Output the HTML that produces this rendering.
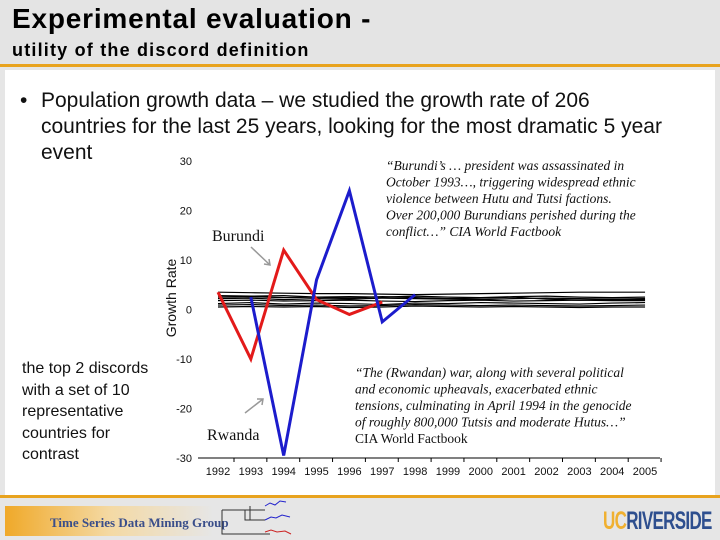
<!DOCTYPE html>
<html><head><meta charset="utf-8">
<style>
body{margin:0;width:720px;height:540px;overflow:hidden;background:#e6e6e6;font-family:"Liberation Sans",sans-serif;position:relative}
.abs{position:absolute}
</style></head><body>
<div class="abs" style="left:0;top:0;width:720px;height:64px;background:#e4e4e4"></div>
<div class="abs" style="left:12px;top:3px;font-size:28px;font-weight:bold;color:#000;letter-spacing:0.8px">Experimental evaluation -</div>
<div class="abs" style="left:12px;top:40px;font-size:18px;font-weight:bold;color:#000;letter-spacing:1.2px">utility of the discord definition</div>
<div class="abs" style="left:0;top:64px;width:720px;height:3px;background:#e8a31e"></div>
<div class="abs" style="left:5px;top:70px;width:710px;height:425px;background:#fff"></div>
<div class="abs" style="left:20px;top:88px;width:680px;font-size:21px;line-height:26px;color:#111">
<span style="position:absolute;left:0">•</span><div style="margin-left:21px;width:655px">Population growth data – we studied the growth rate of 206<br>countries for the last 25 years, looking for the most dramatic 5 year event</div></div>
<div class="abs" style="left:22px;top:358px;width:140px;font-size:16px;line-height:21.5px;color:#111">the top 2 discords with a set of 10 representative countries for contrast</div>
<svg class="abs" style="left:0;top:0" width="720" height="540" id="chart"></svg>
<div class="abs" style="left:0;top:495px;width:720px;height:3px;background:#e8a31e"></div>
<div class="abs" style="left:5px;top:506px;width:260px;height:30px;background:linear-gradient(90deg,#f0a929,#f4d9a3 40%,#e6e6e6 80%)"></div>
<div class="abs" style="left:50px;top:515px;font-family:'Liberation Serif',serif;font-size:13px;font-weight:bold;color:#3a4e8a">Time Series Data Mining Group</div>
<svg class="abs" style="left:220px;top:498px" width="90" height="42">
<path d="M2,12 H45 M2,12 V36 H50 M25,12 V22 H45 M25,22 V12 M30,8 V22 H45" stroke="#333" fill="none" stroke-width="1"/>
<path d="M45,8 l5,-3 5,2 5,-4 6,1" stroke="#22c" fill="none"/>
<path d="M45,22 l6,-3 5,1 6,-3 8,2" stroke="#22c" fill="none"/>
<path d="M45,34 l6,-2 6,2 8,-1 6,3" stroke="#c22" fill="none"/>
</svg>
<div class="abs" style="left:603px;top:507px;font-size:25px;font-weight:bold;letter-spacing:-1px;transform:scaleX(0.68);transform-origin:left;white-space:nowrap"><span style="color:#f0b030">UC</span><span style="color:#2e4f8f">RIVERSIDE</span></div>
<script>
const years=[1992,1993,1994,1995,1996,1997,1998,1999,2000,2001,2002,2003,2004,2005];
const yTicks=[30,20,10,0,-10,-20,-30];
const burundi=[3.5,-10,12,2,-1,1.5];
const rwanda=[null,2.5,-29.5,6,24,-2.5,3];
const others=[
[3.5,3.4,3.3,3.2,3.2,3.1,3.0,3.1,3.2,3.3,3.4,3.5,3.5,3.5],
[2.8,2.7,2.8,2.5,2.6,2.5,2.7,2.5,2.4,2.6,2.7,2.5,2.4,2.5],
[2.2,2.3,2.0,2.2,2.1,2.3,2.2,2.1,2.0,2.2,2.3,2.2,2.1,2.2],
[1.8,1.9,1.7,1.8,1.9,1.7,1.6,1.8,1.9,1.7,1.8,1.9,1.8,1.8],
[1.2,1.4,1.1,1.3,1.2,1.0,1.3,1.2,1.4,1.3,1.2,1.1,1.3,1.4],
[0.5,0.6,0.5,0.6,0.4,0.5,0.7,0.6,0.5,0.6,0.5,0.4,0.5,0.5],
[0.9,1.0,0.8,0.9,0.7,0.8,1.0,0.9,0.8,0.9,0.8,0.7,0.8,0.9],
[2.5,2.6,2.4,2.5,2.3,2.6,2.4,2.2,2.3,2.5,2.1,1.9,2.0,2.0]];
const svg=document.getElementById('chart');const NS='http://www.w3.org/2000/svg';
const x=y=>218+(y-1992)*32.85;const yv=v=>309.5-v*4.95;
function el(t,a,p){const e=document.createElementNS(NS,t);for(const k in a)e.setAttribute(k,a[k]);(p||svg).appendChild(e);return e;}
const ax=el('line',{x1:198,x2:660,y1:458,y2:458,stroke:'#000','stroke-width':1});


years.forEach(y=>{const t=el('text',{x:x(y),y:475,'font-size':11,'text-anchor':'middle',fill:'#111','font-family':'Liberation Sans'});t.textContent=y;


el('line',{x1:x(y)+16,x2:x(y)+16,y1:458,y2:462,stroke:'#000'});});
yTicks.forEach(v=>{const t=el('text',{x:192,y:yv(v)+4,'font-size':11,'text-anchor':'end',fill:'#111','font-family':'Liberation Sans'});t.textContent=v;

});
const yt=el('text',{x:0,y:0,'font-size':14,'text-anchor':'middle',fill:'#111','font-family':'Liberation Sans',transform:'translate(176,298) rotate(-90)'});yt.textContent='Growth Rate';


function line(arr,col,w,name){const pts=[];arr.forEach((v,i)=>{if(v!==null)pts.push(x(years[i])+','+yv(v));});
const p=el('polyline',{points:pts.join(' '),fill:'none',stroke:col,'stroke-width':w,'stroke-linejoin':'miter'});

}
others.forEach(o=>line(o,'#000',1.2,'country-line'));
line(burundi,'#e31a1a',3,'burundi-line');
line(rwanda,'#1c1ccc',3,'rwanda-line');
function txt(s,xx,yy,sz,st,name){const t=el('text',{x:xx,y:yy,'font-size':sz,fill:'#111','font-family':'Liberation Serif','font-style':st});t.textContent=s;

}
txt('Burundi',212,241,16,'normal','burundi-label');
txt('Rwanda',207,440,16,'normal','rwanda-label');
el('path',{d:'M251,247 L270,265 M264,264 L270,265 L269,259',stroke:'#999',fill:'none','stroke-width':1.5});
el('path',{d:'M245,413 L263,399 M257,399 L263,399 L262,405',stroke:'#999',fill:'none','stroke-width':1.5});
const q1=['“Burundi’s … president was assassinated in','October 1993…, triggering widespread ethnic','violence between Hutu and Tutsi factions.','Over 200,000 Burundians perished during the','conflict…” CIA World Factbook'];
q1.forEach((s,i)=>txt(s,386,170+i*16.5,13.5,'italic','burundi-quote'));
const q2=['“The (Rwandan) war, along with several political','and economic upheavals, exacerbated ethnic','tensions, culminating in April 1994 in the genocide','of roughly 800,000 Tutsis and moderate Hutus…”','CIA World Factbook'];
q2.forEach((s,i)=>txt(s,355,377+i*16.5,13.5,i==4?'normal':'italic','rwanda-quote'));
</script>
</body></html>
